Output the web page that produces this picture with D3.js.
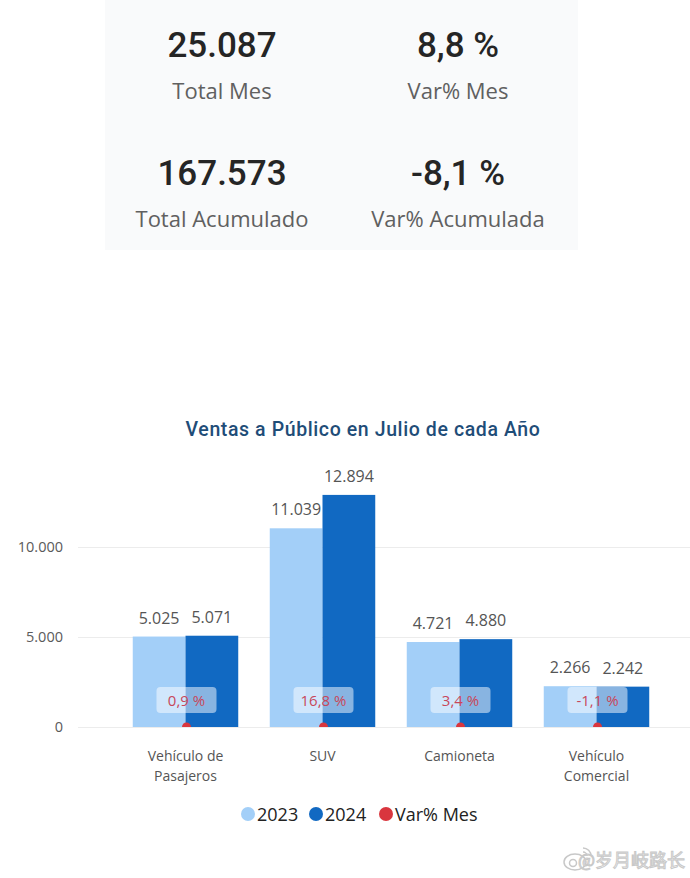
<!DOCTYPE html>
<html><head><meta charset="utf-8">
<script src="https://cdn.jsdelivr.net/npm/d3@7"></script>
<style>
html,body{margin:0;padding:0;background:#fff;}
svg{display:block;}
</style></head>
<body>
<svg id="c" width="690" height="878"></svg>
<script>
const kpiValues = ["25.087", "8,8 %", "167.573", "-8,1 %"];
const kpiLabels = ["Total Mes", "Var% Mes", "Total Acumulado", "Var% Acumulada"];
const categories = [["Vehículo de", "Pasajeros"], ["SUV"], ["Camioneta"], ["Vehículo", "Comercial"]];
const series2023 = [5025, 11039, 4721, 2266];
const series2024 = [5071, 12894, 4880, 2242];
const varMes = [0.9, 16.8, 3.4, -1.1];
const yTicks = [0, 5000, 10000];
const seriesNames = ["2023", "2024", "Var% Mes"];
const title = "Ventas a Público en Julio de cada Año";
const watermark = "@岁月岐路长";

const svg = d3.select("#c");
const fmtNum = v => d3.format(",")(v).replace(/,/g, ".");
const fmtPct = v => d3.format(".1f")(v).replace(".", ",").replace("\u2212", "-") + " %";

const cLight = "#a3cff8", cDark = "#1169c2", cRed = "#d9363e";

// KPI card
svg.append("rect").attr("x", 105).attr("y", 0).attr("width", 473).attr("height", 250).attr("fill", "#f9fafb");
const kx = [222, 458], ky = [57, 185];
kpiValues.forEach((v, i) => {
  const x = kx[i % 2], y = ky[Math.floor(i / 2)];
  svg.append("text").attr("x", x).attr("y", y).attr("text-anchor", "middle")
    .attr("font-family", "Roboto, sans-serif").attr("font-size", 35).attr("font-weight", 500)
    .attr("fill", "#252525").attr("letter-spacing", 0).text(v);
  svg.append("text").attr("x", x).attr("y", y + 42).attr("text-anchor", "middle")
    .attr("font-family", "'Open Sans', sans-serif").attr("font-size", 22)
    .attr("fill", "#606060").text(kpiLabels[i]);
});

// Title
svg.append("text").attr("x", 363).attr("y", 436).attr("text-anchor", "middle")
  .attr("font-family", "Roboto, sans-serif").attr("font-size", 19.5).attr("font-weight", 500)
  .attr("letter-spacing", 0.6).attr("fill", "#1f4d78").text(title);

// scales
const x = d3.scaleBand().domain(d3.range(categories.length)).range([117, 665]).paddingInner(0.23).paddingOuter(0.115);
const y = d3.scaleLinear().domain([0, 10000]).range([727, 547]);

// gridlines + y axis
const yAxis = d3.axisLeft(y).tickValues(yTicks).tickFormat(fmtNum).tickSize(-(690 - 78)).tickPadding(15);
const gy = svg.append("g").attr("transform", "translate(78,0)").call(yAxis);
gy.select(".domain").remove();
gy.selectAll(".tick line").attr("stroke", "#ececec").attr("stroke-width", 1);
gy.selectAll(".tick text").attr("font-family", "'Open Sans', sans-serif").attr("font-size", 14.5).attr("fill", "#5a5a5a");

const bw = x.bandwidth() / 2;
const g = svg.append("g");
g.selectAll(".b23").data(series2023).join("rect")
  .attr("x", (d, i) => x(i)).attr("y", d => y(d)).attr("width", bw).attr("height", d => y(0) - y(d)).attr("fill", cLight);
g.selectAll(".b24").data(series2024).join("rect")
  .attr("x", (d, i) => x(i) + bw).attr("y", d => y(d)).attr("width", bw).attr("height", d => y(0) - y(d)).attr("fill", cDark);

const lblAttrs = s => s.attr("text-anchor", "middle").attr("font-family", "'Open Sans', sans-serif")
  .attr("font-size", 16).attr("fill", "#555");
g.selectAll(".l23").data(series2023).join("text")
  .attr("x", (d, i) => x(i) + bw / 2).attr("y", d => y(d) - 13).call(lblAttrs).text(fmtNum);
g.selectAll(".l24").data(series2024).join("text")
  .attr("x", (d, i) => x(i) + bw * 1.5).attr("y", d => y(d) - 13).call(lblAttrs).text(fmtNum);

// Var% markers (on primary axis ~0), clipped at baseline
svg.append("clipPath").attr("id", "pc").append("rect").attr("x", 0).attr("y", 0).attr("width", 690).attr("height", 727);
const gv = svg.append("g");
gv.selectAll("circle").data(varMes).join("circle")
  .attr("clip-path", "url(#pc)")
  .attr("cx", (d, i) => x(i) + bw + 1).attr("cy", d => y(d / 100)).attr("r", 4.5).attr("fill", cRed);
gv.selectAll("rect").data(varMes).join("rect")
  .attr("x", (d, i) => x(i) + bw + 1 - 30).attr("y", 687).attr("width", 60).attr("height", 26).attr("rx", 4)
  .attr("fill", "#ffffff").attr("fill-opacity", 0.5);
gv.selectAll("text").data(varMes).join("text")
  .attr("x", (d, i) => x(i) + bw + 1).attr("y", 705.5).attr("text-anchor", "middle")
  .attr("font-family", "'Open Sans', sans-serif").attr("font-size", 15).attr("fill", "#c8475a").text(fmtPct);

// x axis labels
const gx = svg.append("g");
categories.forEach((lines, i) => {
  const t = gx.append("text").attr("x", x(i) + bw).attr("y", 761).attr("text-anchor", "middle")
    .attr("font-family", "'Open Sans', sans-serif").attr("font-size", 14).attr("fill", "#555");
  lines.forEach((ln, j) => t.append("tspan").attr("x", x(i) + bw).attr("dy", j ? 20 : 0).text(ln));
});

// legend
const legX = [248, 316, 386], legC = [cLight, cDark, cRed];
seriesNames.forEach((n, i) => {
  svg.append("circle").attr("cx", legX[i]).attr("cy", 814).attr("r", 7).attr("fill", legC[i]);
  svg.append("text").attr("x", legX[i] + 9).attr("y", 821).attr("font-family", "'Open Sans', sans-serif")
    .attr("font-size", 18).attr("fill", "#222").text(n);
});

// watermark
const wm = svg.append("g").attr("fill", "none").attr("stroke", "#c8c8c8").attr("stroke-width", 1.5);
wm.append("ellipse").attr("cx", 575).attr("cy", 862).attr("rx", 11).attr("ry", 8);
wm.append("circle").attr("cx", 573).attr("cy", 863).attr("r", 3.5);
wm.append("path").attr("d", "M583,848 a8,8 0 0 1 8,8 M583,852 a4,4 0 0 1 4,4");
svg.append("text").attr("x", 685).attr("y", 867).attr("text-anchor", "end")
  .attr("font-family", "'Noto Sans CJK SC', sans-serif").attr("font-size", 18)
  .attr("fill", "#fff").attr("stroke", "#c8c8c8").attr("stroke-width", 1).text(watermark);
</script>
</body></html>
